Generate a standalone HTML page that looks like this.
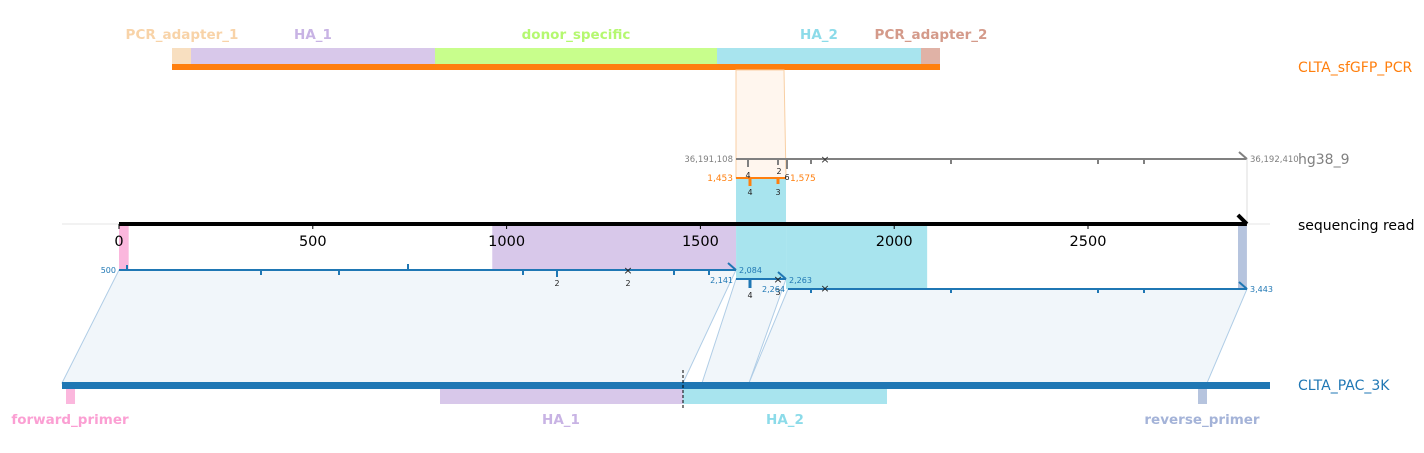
<!DOCTYPE html>
<html><head><meta charset="utf-8"><style>
body{margin:0;background:#fff;}
svg{display:block;font-family:"DejaVu Sans","Liberation Sans",sans-serif;}
</style></head><body>
<svg id="chart" width="1424" height="453" viewBox="0 0 1424 453">
<g>
<rect x="172" y="48" width="19" height="16" fill="#f8dfc0"/>
<rect x="191" y="48" width="244" height="16" fill="#d8c8ea"/>
<rect x="435" y="48" width="282" height="16" fill="#c8fe8c"/>
<rect x="717" y="48" width="204" height="16" fill="#a8e4ee"/>
<rect x="921" y="48" width="19" height="16" fill="#e0b2a6"/>
<rect x="172" y="64" width="768" height="6" fill="#ff7f0e"/>
<g font-size="13.5" font-weight="bold" text-anchor="middle">
<text x="182" y="39" fill="#f8d3a8">PCR_adapter_1</text>
<text x="313" y="39" fill="#c8b3e4">HA_1</text>
<text x="576" y="39" fill="#b5f870">donor_specific</text>
<text x="819" y="39" fill="#8cdbe9">HA_2</text>
<text x="931" y="39" fill="#d49a8a">PCR_adapter_2</text>
</g>
</g>
<polygon points="736,70 784,70 786,178 736,178" fill="#fff6ee" stroke="#f8cfa4" stroke-width="1"/>
<line x1="736" y1="159" x2="1247" y2="159" stroke="#808080" stroke-width="2"/>
<path d="M1239,152 L1247,159" stroke="#808080" stroke-width="2"/>
<g stroke="#808080" stroke-width="2">
<line x1="748" y1="159" x2="748" y2="167"/><line x1="778" y1="159" x2="778" y2="165"/><line x1="787" y1="159" x2="787" y2="169"/>
<line x1="811" y1="159" x2="811" y2="164"/><line x1="951" y1="159" x2="951" y2="164"/><line x1="1098" y1="159" x2="1098" y2="164"/><line x1="1144" y1="159" x2="1144" y2="164"/>
</g>
<text x="825" y="163" font-size="11" text-anchor="middle" fill="#333">×</text>
<text x="733" y="162" font-size="8.5" fill="#808080" text-anchor="end">36,191,108</text>
<text x="1250" y="162" font-size="8.5" fill="#808080">36,192,410</text>
<line x1="1247" y1="159" x2="1247" y2="224" stroke="#ddd" stroke-width="1"/>
<rect x="736" y="178" width="50" height="46" fill="#a8e4ee"/>
<line x1="736" y1="178" x2="786" y2="178" stroke="#ff7f0e" stroke-width="2"/>
<line x1="750" y1="178" x2="750" y2="186" stroke="#ff7f0e" stroke-width="3"/><line x1="778" y1="178" x2="778" y2="184" stroke="#ff7f0e" stroke-width="3"/>
<g font-size="8" fill="#222" text-anchor="middle"><text x="748" y="178">4</text><text x="750" y="195">4</text><text x="778" y="195">3</text><text x="779" y="174">2</text><text x="787" y="180">6</text></g>
<text x="733" y="181" font-size="9" fill="#ff7f0e" text-anchor="end">1,453</text>
<text x="790" y="181" font-size="9" fill="#ff7f0e">1,575</text>
<g id="readFeatures"></g>
<line x1="62" y1="224" x2="1270" y2="224" stroke="#e6e6e6" stroke-width="1"/>
<g id="axis"></g>
<polygon points="119,270 736,270 683,383 62,383" fill="#f1f6fa" stroke="#b0cde6" stroke-width="1"/>
<polygon points="736,279 786,279 749,383 702,383" fill="#f1f6fa" stroke="#b0cde6" stroke-width="1"/>
<polygon points="788,289 1247,289 1207,383 749,383" fill="#f1f6fa" stroke="#b0cde6" stroke-width="1"/>
<g stroke="#1f77b4" stroke-width="2" fill="none">
<line x1="119" y1="270" x2="736" y2="270"/><path d="M728,263 L736,270"/>
<line x1="736" y1="279" x2="786" y2="279"/><path d="M778,272 L786,279"/>
<line x1="788" y1="289" x2="1247" y2="289"/><path d="M1239,282 L1247,289"/>
<line x1="127" y1="270" x2="127" y2="265"/><line x1="261" y1="270" x2="261" y2="275"/><line x1="339" y1="270" x2="339" y2="275"/><line x1="408" y1="270" x2="408" y2="264"/>
<line x1="523" y1="270" x2="523" y2="275"/><line x1="557" y1="270" x2="557" y2="277"/><line x1="674" y1="270" x2="674" y2="275"/><line x1="709" y1="270" x2="709" y2="275"/>
<line x1="750" y1="279" x2="750" y2="288" stroke-width="3"/><line x1="811" y1="289" x2="811" y2="293"/><line x1="951" y1="289" x2="951" y2="293"/><line x1="1098" y1="289" x2="1098" y2="293"/><line x1="1144" y1="289" x2="1144" y2="293"/>
</g>
<g font-size="11" fill="#222" text-anchor="middle"><text x="628" y="274">×</text><text x="778" y="283">×</text><text x="825" y="292">×</text></g>
<g font-size="8" fill="#222" text-anchor="middle"><text x="557" y="286">2</text><text x="628" y="286">2</text><text x="750" y="298">4</text><text x="778" y="295">3</text></g>
<g font-size="8" fill="#1f77b4">
<text x="116" y="273" text-anchor="end">500</text>
<text x="739" y="273">2,084</text><text x="733" y="283" text-anchor="end">2,141</text>
<text x="762" y="292">2,264</text><text x="789" y="283">2,263</text><text x="1250" y="292">3,443</text>
</g>
<rect x="62" y="382" width="1208" height="7" fill="#1f77b4"/>
<rect x="66" y="389" width="9" height="15" fill="#fbb7dd"/>
<rect x="440" y="389" width="243" height="15" fill="#d8c8ea"/>
<rect x="683" y="389" width="204" height="15" fill="#a8e4ee"/>
<rect x="1198" y="389" width="9" height="15" fill="#b6c4de"/>
<line x1="683" y1="370" x2="683" y2="410" stroke="#000" stroke-dasharray="3,2" stroke-width="1"/>
<g font-size="13.5" font-weight="bold" text-anchor="middle">
<text x="70" y="424" fill="#fb9fd3">forward_primer</text>
<text x="561" y="424" fill="#c8b3e4">HA_1</text>
<text x="785" y="424" fill="#8cdbe9">HA_2</text>
<text x="1202" y="424" fill="#a4b3d8">reverse_primer</text>
</g>
<g font-size="14">
<text x="1298" y="72" fill="#ff7f0e">CLTA_sfGFP_PCR</text>
<text x="1298" y="164" fill="#808080">hg38_9</text>
<text x="1298" y="230" fill="#000">sequencing read</text>
<text x="1298" y="390" fill="#1f77b4">CLTA_PAC_3K</text>
</g>
</svg>
<script>
const tickValues=[0,500,1000,1500,2000,2500];
const readLength=2910;
const featureStarts=[0,963,1592,1721,2887];
const featureEnds=[25,1592,1721,2085,2910];
const featureColors=["#fbb7dd","#d8c8ea","#a8e4ee","#a8e4ee","#b6c4de"];
const featureBottoms=[270,270,279,289,289];
const NS="http://www.w3.org/2000/svg";
const x0=119,pxPer=0.3876;
function sx(v){return x0+v*pxPer;}
const rf=document.getElementById('readFeatures');
featureStarts.forEach((s,i)=>{
 const r=document.createElementNS(NS,'rect');
 r.setAttribute('x',sx(s));r.setAttribute('y',226);
 r.setAttribute('width',sx(featureEnds[i])-sx(s));r.setAttribute('height',featureBottoms[i]-226);
 r.setAttribute('fill',featureColors[i]);
 
 
 rf.appendChild(r);
});
const ax=document.getElementById('axis');
const ln=document.createElementNS(NS,'line');
ln.setAttribute('x1',sx(0));ln.setAttribute('x2',sx(readLength));ln.setAttribute('y1',224);ln.setAttribute('y2',224);
ln.setAttribute('stroke','#000');ln.setAttribute('stroke-width',4);


ax.appendChild(ln);
const ar=document.createElementNS(NS,'path');
ar.setAttribute('d',`M${sx(readLength)-9},215 L${sx(readLength)},224`);
ar.setAttribute('stroke','#000');ar.setAttribute('stroke-width',4);


ax.appendChild(ar);
tickValues.forEach(v=>{
 const t=document.createElementNS(NS,'line');
 t.setAttribute('x1',sx(v));t.setAttribute('x2',sx(v));t.setAttribute('y1',224);t.setAttribute('y2',229);
 t.setAttribute('stroke','#000');
 
 
 ax.appendChild(t);
 const l=document.createElementNS(NS,'text');
 l.setAttribute('x',sx(v));l.setAttribute('y',246);l.setAttribute('font-size',14.5);l.setAttribute('text-anchor','middle');
 l.textContent=v;
 
 
 ax.appendChild(l);
});
</script>
</body></html>
